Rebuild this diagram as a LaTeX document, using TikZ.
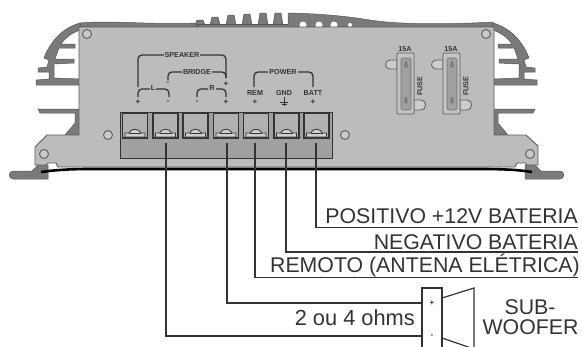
\documentclass[tikz,border=0pt]{standalone}
\usepackage{fontspec}
\setmainfont{Liberation Sans}
\definecolor{platecol}{HTML}{BCBCBC}
\definecolor{blockcol}{HTML}{A0A0A0}
\definecolor{fincol}{HTML}{7A7A7A}
\definecolor{inkcol}{HTML}{333333}
\tikzset{
  fin/.style={fill=fincol,draw=fincol!70!black,line width=.5pt},
  tag/.style={font=\fontsize{7.2}{8}\selectfont\bfseries,text=inkcol,inner sep=1pt},
  signtag/.style={font=\fontsize{8}{8}\selectfont\bfseries,text=inkcol,inner sep=0pt},
  bracket/.style={draw=inkcol,line width=1.3pt,rounded corners=4pt},
  termbox/.style={draw=inkcol,line width=1.2pt,fill=platecol!94!black,minimum width=25pt,minimum height=25pt,inner sep=0pt},
  screw/.style={circle,draw=inkcol!80,line width=.9pt,fill=platecol!80!white,minimum size=9pt,inner sep=0pt},
  wire/.style={draw=inkcol,line width=1.4pt},
  caption/.style={font=\fontsize{21.3}{22}\selectfont,text=inkcol,inner sep=0pt,anchor=base east}
}
\begin{document}
\begin{tikzpicture}[x=1pt,y=-1pt]
 \useasboundingbox (0,0) rectangle (582,346);
 \clip (0,0) rectangle (582,346);

 \fill[fin] (80,23) .. controls (110,20) and (150,25) .. (197,23) -- (197,27) -- (80,27) -- cycle;
 \foreach \tx/\ty in {200/20,215/17,231/15,247/14,263/13,278/13}
  \fill[fin] (\tx-5,25) -- (\tx-3,\ty) -- (\tx+3,\ty) -- (\tx+5,25) -- cycle;
 \fill[fin] (197,24) rectangle (290,27);
 \fill[fin] (288,27) -- (288,13) .. controls (330,14) and (350,17) .. (370,20) .. controls (395,24) and (440,25) .. (493,22) -- (493,27) -- cycle;
 \foreach \hx/\hr in {303/3.5,319/3.5,334/3.5,350/2}
  \fill[white] (\hx,25) circle (\hr);

 \foreach \side/\shift in {1/0,-1/573} {
  \begin{scope}[shift={(\shift,0)},xscale=\side]
   \fill[fin] (80,23) .. controls (62,28) and (50,42) .. (44,58) -- (49,60) -- (47,67) -- (38,68) -- (38,72) -- (49,72) -- (49,79) -- (36,80) -- (36,85) -- (80,85) -- (80,79) -- (54,78) -- (54,64) -- (74,63) -- (74,59) -- (55,59) -- (59,48) -- (75,48) -- (75,44) -- (61,44) .. controls (66,37) and (72,33) .. (80,30) -- cycle;
   \fill[fin] (38,109) -- (80,109) -- (80,135) -- (65,135) -- (75,123) -- (75,113) -- (40,113) -- cycle;
   \fill[fin] (13,171) -- (32,171) -- (38,165) -- (48,165) -- (48,179) -- (13,179) .. controls (8,179) and (8,171) .. (13,171) -- cycle;
  \end{scope}
 }

 \filldraw[fill=platecol,draw=inkcol!80,line width=.9pt] (79,27) -- (494,27) -- (494,135) -- (526,135) -- (538,146) -- (538,165) -- (527,165) -- (525,163) -- (517,163) -- (515,167) -- (58,167) -- (56,163) -- (48,163) -- (46,165) -- (35,165) -- (35,147) -- (47,135) -- (79,135) -- cycle;
 \draw[black,line width=2.6pt] (41,172) .. controls (55,170) and (70,169) .. (90,169) -- (480,169) .. controls (505,169) and (520,170) .. (532,172);

 \foreach \sx/\sy [count=\i] in {87/34,108/135,44/154,486/34,345/135,530/154}
  \node[screw] (screw\i) at (\sx,\sy) {};

 \filldraw[fill=blockcol,draw=inkcol,line width=1pt] (120,112) rectangle (332,158);
 \foreach \x [count=\i] in {135,165.5,195.5,226,256,286.5,316.5} {
  \node[termbox] (term\i) at (\x,125.5) {};
  \filldraw[fill=platecol!70!white,draw=inkcol,line width=.8pt] (\x-10,137) -- (\x-10,133) -- (\x-6,133) .. controls (\x-4,128) and (\x+4,128) .. (\x+6,133) -- (\x+10,133) -- (\x+10,137) -- cycle;
  \draw[inkcol,line width=.8pt] (\x-6,133) -- (\x+6,133);
 }

 \draw[bracket] (138,87) -- (138,55) -- (226,55) -- (226,78);
 \draw[bracket] (168,80) -- (168,72) -- (226,72) -- (226,78);
 \draw[bracket] (138,97) -- (138,89) -- (169,89) -- (169,97);
 \draw[bracket] (197,97) -- (197,89) -- (226,89) -- (226,97);
 \draw[bracket] (254,87) -- (254,72) -- (313,72) -- (313,87);
 \node[tag,fill=platecol] (speaker) at (182,55) {SPEAKER};
 \node[tag,fill=platecol] (bridge) at (197,72) {BRIDGE};
 \node[tag,fill=platecol] (lefttag) at (153,88.5) {L};
 \node[tag,fill=platecol] (righttag) at (212,88.5) {R};
 \node[tag,fill=platecol] (power) at (283,72) {POWER};
 \node[tag] (rem) at (255,93) {REM};
 \node[tag] (gnd) at (284,93) {GND};
 \node[tag] (batt) at (313,93) {BATT};
 \foreach \x/\y/\s [count=\i] in {168/83/-,226/84/+,138/102/+,168/102/-,197/102/-,226/102/+,255/102/+,313/102/+}
  \node[signtag] (sign\i) at (\x,\y) {\s};
 \draw[inkcol,line width=.8pt] (284,97) -- (284,106) (280,102) -- (288,102) (281.5,104) -- (286.5,104);

 \foreach \fx [count=\i] in {0,46} {
  \begin{scope}[shift={(\fx,0)}]
   \filldraw[fill=platecol!75!white,draw=inkcol!80,line width=.8pt] (397,60) -- (390,60) .. controls (384,60) and (384,69) .. (390,69) -- (397,69) -- cycle;
   \filldraw[fill=platecol!75!white,draw=inkcol!80,line width=.8pt] (414,100) -- (421,100) .. controls (427,100) and (427,110) .. (421,110) -- (414,110) -- cycle;
   \filldraw[fill=platecol!88!white,draw=inkcol!80,line width=.9pt,rounded corners=1pt] (397,53) rectangle (414,114);
   \filldraw[fill=blockcol,draw=inkcol!70,line width=.6pt,rounded corners=2pt] (401,58) rectangle (411,110);
   \node[tag] (amp\i) at (405,49) {15A};
   \node[tag,rotate=90] (fuse\i) at (420,86) {FUSE};
   \node[inner sep=0pt,rotate=90,text=inkcol,font=\fontsize{4}{4}\selectfont] (ampa\i) at (406,65) {15A};
   \node[inner sep=0pt,rotate=90,text=inkcol,font=\fontsize{4}{4}\selectfont] (ampb\i) at (406,101) {15A};
  \end{scope}
 }

 \node[caption] (battpos) at (578,223.5) {POSITIVO +12V BATERIA};
 \node[caption] (battneg) at (578,249.3) {NEGATIVO BATERIA};
 \node[caption] (remote) at (580,272.7) {REMOTO (ANTENA ELÉTRICA)};

 \node[draw=inkcol,line width=1.2pt,fill=white,minimum width=20pt,minimum height=70pt,inner sep=0pt] (spkbox) at (432,323) {};
 \node[signtag] (plus) at (432,303) {+};
 \node[signtag] (minus) at (432,336) {-};
 \draw[draw=inkcol,line width=1.2pt] (442,298) -- (474,288) -- (474,350);
 \draw[draw=inkcol,line width=1.2pt] (442,338) -- (474,349);
 \node[font=\fontsize{21.8}{22}\selectfont,text=inkcol,inner sep=0pt,anchor=base east] (ohms) at (415,325.7) {2 ou 4 ohms};
 \node[font=\fontsize{21.3}{22}\selectfont,text=inkcol,inner sep=0pt,anchor=base] (sub) at (530,314) {SUB-};
 \node[font=\fontsize{21.3}{22}\selectfont,text=inkcol,inner sep=0pt,anchor=base] (woofer) at (530.5,334) {WOOFER};

 \coordinate (w2) at (166,143);
 \coordinate (w4) at (227,143);
 \coordinate (w5) at (255,143);
 \coordinate (w6) at (286,143);
 \coordinate (w7) at (316,143);
 \coordinate (e7) at (578,227.7);
 \coordinate (e6) at (578,252);
 \coordinate (e5) at (578,277.7);
 \coordinate (e4) at (spkbox.west |- plus);
 \coordinate (e2) at (spkbox.west |- minus);
 \foreach \from/\to in {w7/e7,w6/e6,w5/e5,w4/e4,w2/e2}
 \draw[wire] (\from) |- (\to);
\end{tikzpicture}
\end{document}
